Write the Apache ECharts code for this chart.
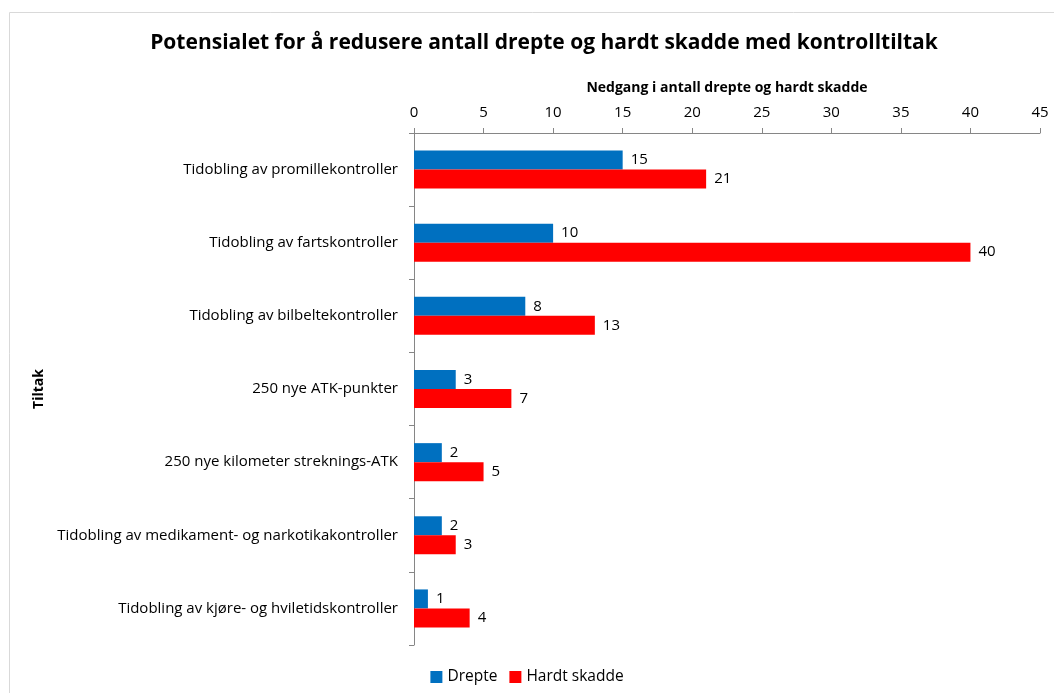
<!DOCTYPE html>
<html>
<head>
<meta charset="utf-8">
<script src="https://cdn.jsdelivr.net/npm/echarts@6/dist/echarts.min.js"></script>
<style>
  html, body { margin: 0; padding: 0; background: #fff; }
  #chart { width: 1054px; height: 693px; }
</style>
</head>
<body>
<div id="chart"></div>
<script>
// data
const categories = [
    'Tidobling av promillekontroller',
    'Tidobling av fartskontroller',
    'Tidobling av bilbeltekontroller',
    '250 nye ATK-punkter',
    '250 nye kilometer streknings-ATK',
    'Tidobling av medikament- og narkotikakontroller',
    'Tidobling av kjøre- og hviletidskontroller'
];
const drepte = [15, 10, 8, 3, 2, 2, 1];
const hardtSkadde = [21, 40, 13, 7, 5, 3, 4];
const xTicks = { min: 0, max: 45, interval: 5 };

const font = '"Open Sans", "Liberation Sans", sans-serif';
const chart = echarts.init(document.getElementById('chart'));

const labelStyle = {
    show: true,
    position: 'right',
    distance: 8,
    color: '#000',
    fontSize: 15,
    fontFamily: font
};

const option = {
    animation: false,
    textStyle: { fontFamily: font },
    graphic: [{
        type: 'rect',
        shape: { x: 9.5, y: 12.5, width: 1100, height: 750 },
        style: { fill: 'none', stroke: '#d9d9d9', lineWidth: 1 },
        silent: true
    }],
    title: {
        text: 'Potensialet for å redusere antall drepte og hardt skadde med kontrolltiltak',
        left: 539,
        textAlign: 'center',
        top: 28,
        textStyle: { fontSize: 21, fontWeight: 'bold', color: '#000', fontFamily: font }
    },
    legend: {
        data: ['Drepte', 'Hardt skadde'],
        bottom: 3,
        left: 'center',
        itemWidth: 12,
        itemHeight: 12,
        itemGap: 12,
        icon: 'rect',
        textStyle: { fontSize: 15.5, color: '#000', fontFamily: font }
    },
    grid: { left: 414, right: 14, top: 133, bottom: 48, containLabel: false },
    xAxis: {
        type: 'value',
        position: 'top',
        min: xTicks.min,
        max: xTicks.max,
        interval: xTicks.interval,
        name: 'Nedgang i antall drepte og hardt skadde',
        nameLocation: 'middle',
        nameGap: 38,
        nameTextStyle: { fontSize: 14, fontWeight: 'bold', color: '#000', fontFamily: font },
        axisLine: { show: true, lineStyle: { color: '#868686' } },
        axisTick: { show: true, inside: false, length: 5, lineStyle: { color: '#868686' } },
        axisLabel: { fontSize: 15, color: '#000', margin: 13, fontFamily: font },
        splitLine: { show: false }
    },
    yAxis: {
        type: 'category',
        inverse: true,
        data: categories,
        name: 'Tiltak',
        nameLocation: 'middle',
        nameRotate: 90,
        nameGap: 368,
        nameTextStyle: { fontSize: 14, fontWeight: 'bold', color: '#000', fontFamily: font },
        axisLine: { show: true, lineStyle: { color: '#868686' } },
        axisTick: { show: true, length: 5, lineStyle: { color: '#868686' } },
        axisLabel: { fontSize: 15, color: '#000', margin: 16, fontFamily: font }
    },
    series: [
        {
            name: 'Drepte',
            type: 'bar',
            data: drepte,
            barWidth: 19,
            barGap: '0%',
            itemStyle: { color: '#0070C0' },
            label: labelStyle
        },
        {
            name: 'Hardt skadde',
            type: 'bar',
            data: hardtSkadde,
            barWidth: 19,
            barGap: '0%',
            itemStyle: { color: '#FF0000' },
            label: labelStyle
        }
    ]
};

chart.setOption(option);
</script>
</body>
</html>
